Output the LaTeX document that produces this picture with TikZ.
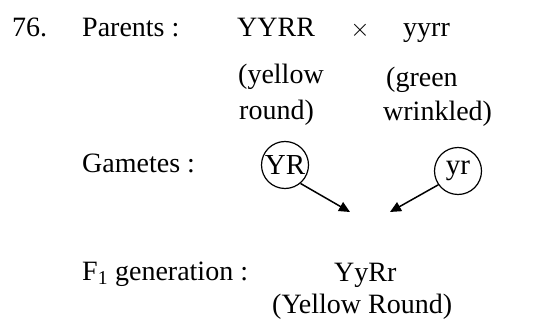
\documentclass[tikz,border=0pt]{standalone}
\usepackage{fontspec}
\setmainfont{Liberation Serif}
\usetikzlibrary{arrows.meta}
\begin{document}
\begin{tikzpicture}[x=1pt,y=-1pt,
  txt/.style={anchor=base west,inner sep=0pt,font=\fontsize{28}{30}\selectfont},
  gam/.style={circle,draw,line width=1.2pt,minimum size=47pt,inner sep=0pt,font=\fontsize{29}{30}\selectfont},
  arr/.style={line width=1.5pt,-{Triangle[length=11pt,width=10pt]}}]
\useasboundingbox (0,0) rectangle (534,320);
\node[txt] (num) at (12,37) {76.};
\node[txt] (par) at (82,37) {Parents :};
\node[txt] (p1) at (237,37) {YYRR};
\node[txt,anchor=base] (x) at (360,37) {$\times$};
\node[txt] (p2) at (403,37) {yyrr};
\node[txt] (ph1a) at (238,84) {(yellow};
\node[txt] (ph1b) at (239,120) {round)};
\node[txt] (ph2a) at (386,87) {(green};
\node[txt] (ph2b) at (383,121) {wrinkled)};
\node[txt] (gl) at (82,173) {Gametes :};
\node[gam] (g1) at (285,165) {YR};
\node[gam] (g2) at (458,171) {yr};
\coordinate (e1) at (350,212);
\coordinate (e2) at (390,212);
\draw[arr] (g1.-50) -- (e1);
\draw[arr] (g2.-145) -- (e2);
\node[txt] (fl) at (82,280) {F\textsubscript{1} generation :};
\node[txt] (f1) at (334,281) {YyRr};
\node[txt] (f1p) at (272,313) {(Yellow Round)};
\end{tikzpicture}
\end{document}
